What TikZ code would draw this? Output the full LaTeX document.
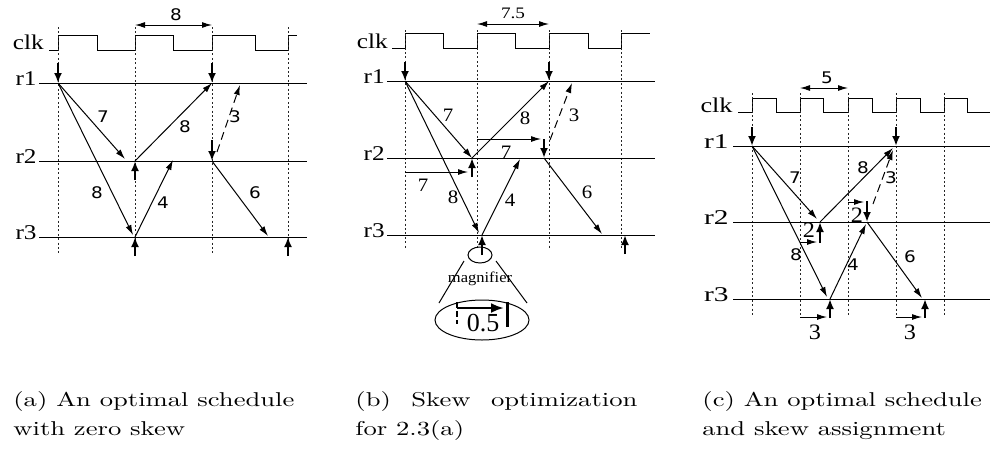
\documentclass[tikz,border=0pt]{standalone}
\usepackage{fontspec}
\usepackage{graphicx}
\usetikzlibrary{arrows.meta,shapes.geometric}
\newfontfamily\tms{Liberation Serif}
\newfontfamily\dvs{DejaVu Sans}
\newcommand{\xs}[2]{\scalebox{#1}[1]{#2}}
\tikzset{
  wire/.style={line width=0.5pt},
  gridline/.style={line width=0.5pt, dash pattern=on 1pt off 1.2pt, black!85},
  wave/.style={line width=0.5pt},
  sig/.style={line width=0.5pt, -{Latex[length=5pt,width=3pt]}},
  dsig/.style={sig, dash pattern=on 4pt off 2.5pt},
  clkarr/.style={line width=1pt, -{Latex[length=5pt,width=4pt]}},
  dimarr/.style={line width=0.5pt, {Latex[length=5pt,width=3pt]}-{Latex[length=5pt,width=3pt]}},
  lbl/.style={inner sep=0pt, anchor=base east, font=\tms\fontsize{10.5}{12}\selectfont},
  sn/.style={inner sep=0pt, font=\dvs\fontsize{8}{9}\selectfont},
  rn/.style={inner sep=0pt, font=\tms\fontsize{9.5}{11}\selectfont},
  rnb/.style={inner sep=0pt, font=\tms\fontsize{11}{12}\selectfont},
  captxt/.style={inner sep=0pt, anchor=base west, font=\fontsize{10}{12}\selectfont},
}
\begin{document}
\begin{tikzpicture}[x=0.5pt, y=-0.5pt]
\useasboundingbox (0,0) rectangle (990,450);

%%%%%%%%%%%%%%%% panel (a)
\node[lbl] (clka) at (44,49) {\xs{1.2}{clk}};
\node[lbl] (r1a) at (37,85) {\xs{1.2}{r1}};
\node[lbl] (r2a) at (37,163) {\xs{1.2}{r2}};
\node[lbl] (r3a) at (37,239) {\xs{1.2}{r3}};
\draw[wave] (49,50) -- (58,50) -- (58,35) -- (97,35) -- (97,50) -- (135,50) -- (135,35) -- (173,35) -- (173,50) -- (212,50) -- (212,35) -- (255,35) -- (255,50) -- (288,50) -- (288,35) -- (297,35);
\foreach \gx in {58,135,212,288} \draw[gridline] (\gx,27) -- (\gx,255);
\draw[wire] (39,83) -- (307,83);
\draw[wire] (39,161) -- (307,161);
\draw[wire] (39,237) -- (307,237);
\coordinate (da1) at (135,25); \coordinate (da2) at (212,25);
\draw[dimarr] (da1) -- (da2);
\node[sn] (dla) at (176,15) {\xs{1.15}{8}};
% vertices
\coordinate (a1L) at (58,83);  \coordinate (a1R) at (212,83);
\coordinate (a2M) at (135,161); \coordinate (a2R) at (212,161);
\coordinate (a3M) at (135,237); \coordinate (a3R) at (288,237);
% clock arrows
\coordinate (ca1) at (58,63);  \draw[clkarr] (ca1) -- (a1L);
\coordinate (ca2) at (212,63); \draw[clkarr] (ca2) -- (a1R);
\coordinate (ca3) at (135,180); \draw[clkarr] (ca3) -- (a2M);
\coordinate (ca4) at (212,140); \draw[clkarr] (ca4) -- (a2R);
\coordinate (ca5) at (135,256); \draw[clkarr] (ca5) -- (a3M);
\coordinate (ca6) at (288,256); \draw[clkarr] (ca6) -- (a3R);
% signal arrows
\coordinate (ea1) at (125,159); \draw[sig] (a1L) -- (ea1);
\coordinate (ea2) at (133,235); \draw[sig] (a1L) -- (ea2);
\draw[sig] (a2M) -- (a1R);
\coordinate (ea4) at (173,160); \draw[sig] (a3M) -- (ea4);
\coordinate (sa5) at (217,152); \coordinate (ea5) at (240,85); \draw[dsig] (sa5) -- (ea5);
\coordinate (ea6) at (268,236); \draw[sig] (a2R) -- (ea6);
\node[sn] (la1) at (103,117) {\xs{1.15}{7}};
\node[sn] (la2) at (97,193) {\xs{1.15}{8}};
\node[sn] (la3) at (185,127) {\xs{1.15}{8}};
\node[sn] (la4) at (163,203) {\xs{1.15}{4}};
\node[sn] (la5) at (235,117) {\xs{1.15}{3}};
\node[sn] (la6) at (255,193) {\xs{1.15}{6}};

%%%%%%%%%%%%%%%% panel (b)
\node[lbl] (clkb) at (388,48) {\xs{1.2}{clk}};
\node[lbl] (r1b) at (385,83) {\xs{1.2}{r1}};
\node[lbl] (r2b) at (385,160) {\xs{1.2}{r2}};
\node[lbl] (r3b) at (385,237) {\xs{1.2}{r3}};
\draw[wave] (392,48) -- (405,48) -- (405,33) -- (443,33) -- (443,48) -- (477,48) -- (477,33) -- (515,33) -- (515,48) -- (549,48) -- (549,33) -- (588,33) -- (588,48) -- (621,48) -- (621,33) -- (650,33);
\foreach \gx in {405,477,549,621} \draw[gridline] (\gx,30) -- (\gx,250);
\draw[wire] (387,81) -- (655,81);
\draw[wire] (387,158) -- (655,158);
\draw[wire] (387,235) -- (655,235);
\coordinate (db1) at (477,24); \coordinate (db2) at (549,24);
\draw[dimarr] (db1) -- (db2);
\node[rn, font=\tms\fontsize{8}{9}\selectfont] (dlb) at (513,13) {\xs{1.2}{7.5}};
\coordinate (b1L) at (405,81);  \coordinate (b1R) at (549,81);
\coordinate (b2M) at (472,158); \coordinate (b2R) at (544,158);
\coordinate (b3M) at (482,235); \coordinate (b3R) at (625,235);
% clock arrows
\coordinate (cb1) at (405,62);  \draw[clkarr] (cb1) -- (b1L);
\coordinate (cb2) at (549,62);  \draw[clkarr] (cb2) -- (b1R);
\coordinate (cb3) at (472,177); \draw[clkarr] (cb3) -- (b2M);
\coordinate (cb4) at (544,139); \draw[clkarr] (cb4) -- (b2R);
\coordinate (cb5) at (482,255); \draw[clkarr] (cb5) -- (b3M);
\coordinate (cb6) at (625,254); \draw[clkarr] (cb6) -- (b3R);
% skew arrows
\coordinate (hb1s) at (405,172); \coordinate (hb1e) at (468,172); \draw[sig] (hb1s) -- (hb1e);
\coordinate (hb2s) at (477,139); \coordinate (hb2e) at (541,139); \draw[sig] (hb2s) -- (hb2e);
% signal arrows
\draw[sig] (b1L) -- (b2M);
\coordinate (eb2) at (479,233); \draw[sig] (b1L) -- (eb2);
\draw[sig] (b2M) -- (b1R);
\coordinate (eb4) at (520,159); \draw[sig] (b3M) -- (eb4);
\coordinate (sb5) at (550,140); \coordinate (eb5) at (572,83); \draw[dsig] (sb5) -- (eb5);
\coordinate (eb6) at (602,234); \draw[sig] (b2R) -- (eb6);
\node[rn] (lb1) at (448,115) {\xs{1.1}{7}};
\node[rn] (lb2) at (453,197) {\xs{1.1}{8}};
\node[rn] (lb3) at (525,118) {\xs{1.1}{8}};
\node[rn] (lb4) at (510,200) {\xs{1.1}{4}};
\node[rn] (lb5) at (574,115) {\xs{1.1}{3}};
\node[rn] (lb6) at (587,192) {\xs{1.1}{6}};
\node[rn] (lb7) at (506,152) {\xs{1.1}{7}};
\node[rn] (lb8) at (423,185) {\xs{1.1}{7}};
% magnifier
\node[draw, ellipse, line width=0.5pt, inner sep=0pt, minimum width=12pt, minimum height=8pt] (mag) at (480,255) {};
\node[draw, ellipse, line width=0.5pt, inner sep=0pt, minimum width=47pt, minimum height=20pt] (big) at (482,320) {};
\coordinate (mlA) at (464,261); \coordinate (mlB) at (439,303);
\coordinate (mrA) at (496,261); \coordinate (mrB) at (527,303);
\draw[wire] (mlA) -- (mlB);
\draw[wire] (mrA) -- (mrB);
\node[inner sep=0pt, font=\tms\fontsize{7.5}{9}\selectfont] (magl) at (480,279) {\xs{1.1}{magnifier}};
\coordinate (mdA) at (457,302); \coordinate (mdB) at (457,324);
\draw[line width=1.3pt, dash pattern=on 3pt off 1.5pt] (mdA) -- (mdB);
\coordinate (maS) at (457,308); \coordinate (maE) at (504,308);
\draw[line width=1.3pt, -{Latex[length=6.5pt,width=5pt]}] (maS) -- (maE);
\coordinate (mbA) at (507,302); \coordinate (mbB) at (507,327);
\draw[line width=1.5pt] (mbA) -- (mbB);
\node[inner sep=0pt, font=\tms\fontsize{13}{14}\selectfont] (m05) at (483,323) {0.5};

%%%%%%%%%%%%%%%% panel (c)
\node[lbl] (clkc) at (733,112) {\xs{1.25}{clk}};
\node[lbl] (r1c) at (729,148) {\xs{1.4}{r1}};
\node[lbl] (r2c) at (729,224) {\xs{1.4}{r2}};
\node[lbl] (r3c) at (729,301) {\xs{1.4}{r3}};
\draw[wave] (738,112) -- (752,112) -- (752,98) -- (776,98) -- (776,112) -- (800,112) -- (800,98) -- (823,98) -- (823,112) -- (848,112) -- (848,98) -- (872,98) -- (872,112) -- (896,112) -- (896,98) -- (920,98) -- (920,112) -- (944,112) -- (944,98) -- (967,98) -- (967,112) -- (990,112);
\foreach \gx in {752,800,848,896,944} \draw[gridline] (\gx,93) -- (\gx,317);
\draw[wire] (733,146) -- (990,146);
\draw[wire] (733,222) -- (990,222);
\draw[wire] (733,299) -- (990,299);
\coordinate (dc1) at (800,88); \coordinate (dc2) at (848,88);
\draw[dimarr] (dc1) -- (dc2);
\node[sn] (dlc) at (827,78) {\xs{1.15}{5}};
\coordinate (c1L) at (752,146); \coordinate (c1R) at (896,146);
\coordinate (c2M) at (820,222); \coordinate (c2R) at (867,222);
\coordinate (c3M) at (830,299); \coordinate (c3R) at (925,299);
% clock arrows
\coordinate (cc1) at (752,127); \draw[clkarr] (cc1) -- (c1L);
\coordinate (cc2) at (896,127); \draw[clkarr] (cc2) -- (c1R);
\coordinate (cc3) at (820,243); \draw[clkarr] (cc3) -- (c2M);
\coordinate (cc4) at (867,201); \draw[clkarr] (cc4) -- (c2R);
\coordinate (cc5) at (830,318); \draw[clkarr] (cc5) -- (c3M);
\coordinate (cc6) at (925,318); \draw[clkarr] (cc6) -- (c3R);
% skew arrows
\coordinate (hc1s) at (800,242); \coordinate (hc1e) at (817,242); \draw[sig] (hc1s) -- (hc1e);
\coordinate (hc2s) at (848,202); \coordinate (hc2e) at (864,202); \draw[sig] (hc2s) -- (hc2e);
\coordinate (hc3s) at (800,317); \coordinate (hc3e) at (827,317); \draw[sig] (hc3s) -- (hc3e);
\coordinate (hc4s) at (896,317); \coordinate (hc4e) at (922,317); \draw[sig] (hc4s) -- (hc4e);
% signal arrows
\coordinate (ec1) at (817,219); \draw[sig] (c1L) -- (ec1);
\coordinate (ec2) at (827,297); \draw[sig] (c1L) -- (ec2);
\coordinate (ec3) at (893,148); \draw[sig] (c2M) -- (ec3);
\coordinate (ec4) at (866,224); \draw[sig] (c3M) -- (ec4);
\coordinate (sc5) at (873,204); \coordinate (ec5) at (893,150); \draw[dsig] (sc5) -- (ec5);
\coordinate (ec6) at (922,298); \draw[sig] (c2R) -- (ec6);
\node[sn] (lc1) at (795,178) {\xs{1.15}{7}};
\node[sn] (lc2) at (796,255) {\xs{1.15}{8}};
\node[sn] (lc3) at (863,168) {\xs{1.15}{8}};
\node[sn] (lc4) at (853,265) {\xs{1.15}{4}};
\node[sn] (lc5) at (891,178) {\xs{1.15}{3}};
\node[sn] (lc6) at (910,257) {\xs{1.15}{6}};
\node[rnb] (lc7) at (809,230) {\xs{1.1}{2}};
\node[rnb] (lc8) at (857,215) {\xs{1.1}{2}};
\node[rnb] (lc9) at (815,332) {\xs{1.1}{3}};
\node[rnb] (lc10) at (910,332) {\xs{1.1}{3}};

%%%%%%%%%%%%%%%% captions
\node[captxt] (capa1) at (13,406) {\xs{1.33}{(a) An optimal schedule}};
\node[captxt] (capa2) at (13,435) {\xs{1.33}{with zero skew}};
\node[captxt] (capb1) at (355,406) {\xs{1.33}{\makebox[106pt][s]{(b) Skew optimization}}};
\node[captxt] (capb2) at (355,435) {\xs{1.33}{for 2.3(a)}};
\node[captxt] (capc1) at (702,406) {\xs{1.33}{(c) An optimal schedule}};
\node[captxt] (capc2) at (702,435) {\xs{1.33}{and skew assignment}};
\end{tikzpicture}
\end{document}
